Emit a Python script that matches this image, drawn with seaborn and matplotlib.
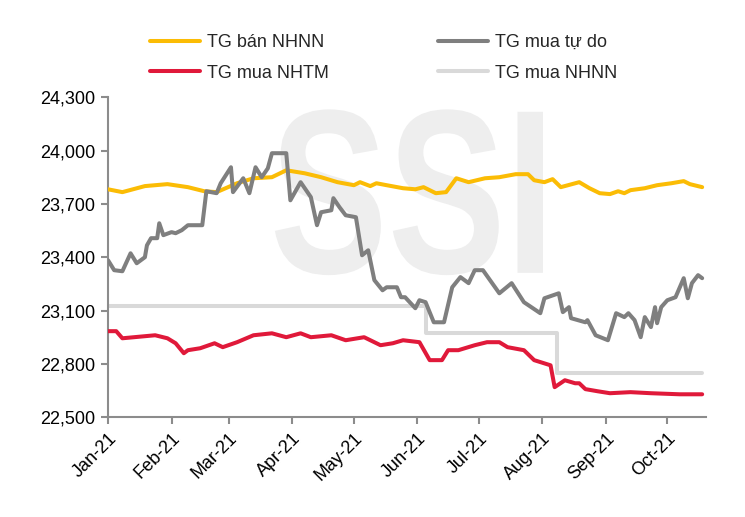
import pandas as pd
import numpy as np
import seaborn as sns
import matplotlib.pyplot as plt
import matplotlib.dates as mdates
from matplotlib.ticker import FuncFormatter
from matplotlib.textpath import TextPath
from matplotlib.patches import PathPatch
from matplotlib.font_manager import FontProperties
from matplotlib.transforms import Affine2D

# ----------------------
# Data (VND/USD)
# ----------------------

# TG ban NHNN (SBV selling rate)
sell_sbv_dates = ["2021-01-01", "2021-01-08", "2021-01-19", "2021-01-30", "2021-02-09", "2021-02-17",
                  "2021-02-23", "2021-03-05", "2021-03-13", "2021-03-22", "2021-03-29", "2021-04-07",
                  "2021-04-15", "2021-04-23", "2021-05-01", "2021-05-04", "2021-05-09", "2021-05-12",
                  "2021-05-17", "2021-05-25", "2021-05-31", "2021-06-04", "2021-06-10", "2021-06-15",
                  "2021-06-20", "2021-06-26", "2021-07-04", "2021-07-11", "2021-07-19", "2021-07-25",
                  "2021-07-28", "2021-08-02", "2021-08-06", "2021-08-10", "2021-08-19", "2021-08-24",
                  "2021-08-29", "2021-09-03", "2021-09-07", "2021-09-10", "2021-09-13", "2021-09-20",
                  "2021-09-26", "2021-10-03", "2021-10-09", "2021-10-12", "2021-10-18"]
sell_sbv = [23782, 23766, 23800, 23811, 23794, 23771,
            23766, 23816, 23844, 23850, 23889, 23872,
            23850, 23822, 23805, 23822, 23800, 23816,
            23805, 23788, 23782, 23794, 23760, 23766,
            23844, 23822, 23844, 23850, 23867, 23867,
            23833, 23822, 23839, 23794, 23822, 23788,
            23760, 23755, 23771, 23760, 23777, 23788,
            23805, 23816, 23828, 23811, 23794]

# TG mua tu do (free market buying rate)
free_dates = ["2021-01-01", "2021-01-04", "2021-01-08", "2021-01-12", "2021-01-15", "2021-01-19",
              "2021-01-20", "2021-01-22", "2021-01-25", "2021-01-26", "2021-01-28", "2021-02-01",
              "2021-02-03", "2021-02-06", "2021-02-09", "2021-02-16", "2021-02-18", "2021-02-23",
              "2021-02-25", "2021-03-02", "2021-03-03", "2021-03-08", "2021-03-11", "2021-03-14",
              "2021-03-17", "2021-03-20", "2021-03-22", "2021-03-29", "2021-03-31", "2021-04-05",
              "2021-04-10", "2021-04-13", "2021-04-15", "2021-04-20", "2021-04-21", "2021-04-24",
              "2021-04-27", "2021-05-02", "2021-05-05", "2021-05-08", "2021-05-11", "2021-05-15",
              "2021-05-17", "2021-05-22", "2021-05-24", "2021-05-26", "2021-05-31", "2021-06-02",
              "2021-06-05", "2021-06-09", "2021-06-14", "2021-06-18", "2021-06-22", "2021-06-26",
              "2021-06-29", "2021-07-03", "2021-07-11", "2021-07-17", "2021-07-23", "2021-07-31",
              "2021-08-02", "2021-08-09", "2021-08-11", "2021-08-14", "2021-08-15", "2021-08-22",
              "2021-08-23", "2021-08-27", "2021-09-02", "2021-09-06", "2021-09-10", "2021-09-12",
              "2021-09-15", "2021-09-18", "2021-09-20", "2021-09-23", "2021-09-25", "2021-09-26",
              "2021-09-28", "2021-10-01", "2021-10-05", "2021-10-09", "2021-10-11", "2021-10-13",
              "2021-10-16", "2021-10-18"]
free_buy = [23383, 23327, 23321, 23422, 23366, 23400,
            23467, 23507, 23507, 23591, 23524, 23541,
            23535, 23552, 23580, 23580, 23771, 23760,
            23816, 23906, 23766, 23844, 23760, 23906,
            23850, 23900, 23985, 23985, 23720, 23822,
            23738, 23580, 23653, 23664, 23732, 23681,
            23636, 23625, 23411, 23439, 23271, 23214,
            23231, 23231, 23175, 23175, 23113, 23158,
            23147, 23034, 23034, 23231, 23288, 23254,
            23327, 23327, 23197, 23254, 23147, 23085,
            23169, 23197, 23091, 23119, 23057, 23034,
            23046, 22961, 22933, 23085, 23063, 23085,
            23046, 22950, 23063, 23007, 23119, 23029,
            23119, 23158, 23175, 23282, 23169, 23254,
            23299, 23282]

# TG mua NHTM (commercial bank buying rate)
bank_dates = ["2021-01-01", "2021-01-05", "2021-01-08", "2021-01-24", "2021-01-30", "2021-02-03",
              "2021-02-07", "2021-02-09", "2021-02-15", "2021-02-22", "2021-02-26", "2021-03-05",
              "2021-03-13", "2021-03-22", "2021-03-29", "2021-04-05", "2021-04-10", "2021-04-20",
              "2021-04-27", "2021-05-06", "2021-05-14", "2021-05-20", "2021-05-25", "2021-06-02",
              "2021-06-07", "2021-06-13", "2021-06-16", "2021-06-21", "2021-06-29", "2021-07-05",
              "2021-07-11", "2021-07-15", "2021-07-23", "2021-07-28", "2021-08-05", "2021-08-07",
              "2021-08-12", "2021-08-17", "2021-08-19", "2021-08-22", "2021-08-28", "2021-09-03",
              "2021-09-13", "2021-09-23", "2021-10-07", "2021-10-18"]
bank_buy = [22984, 22984, 22944, 22961, 22944, 22916,
            22860, 22877, 22888, 22916, 22894, 22922,
            22961, 22972, 22950, 22972, 22950, 22961,
            22933, 22950, 22905, 22916, 22933, 22922,
            22821, 22821, 22877, 22877, 22905, 22922,
            22922, 22894, 22877, 22821, 22792, 22669,
            22708, 22691, 22691, 22658, 22646, 22635,
            22641, 22635, 22629, 22629]

# TG mua NHNN (SBV buying rate, step changes)
buy_sbv_dates = ["2021-01-01", "2021-06-05", "2021-08-08", "2021-10-18"]
buy_sbv = [23125, 22975, 22750, 22750]

# ----------------------
# Plot
# ----------------------

sns.set_theme(style="white")
plt.rcParams["font.family"] = ["Liberation Sans", "DejaVu Sans"]

fig, ax = plt.subplots(figsize=(7.45, 5.17), dpi=100)
fig.subplots_adjust(left=0.145, right=0.948, top=0.812, bottom=0.193)

# SSI watermark, squeezed to a narrow shape and placed in axes fraction
wm = TextPath((0, 0), "SSI", size=1, prop=FontProperties(family="Liberation Sans", weight="bold"))
ext = wm.get_extents()
box_x0, box_x1, box_y0, box_y1 = 0.279, 0.727, 0.444, 0.962
tr = (Affine2D().translate(-ext.x0, -ext.y0)
      .scale((box_x1 - box_x0) / ext.width, (box_y1 - box_y0) / ext.height)
      .translate(box_x0, box_y0))
ax.add_patch(PathPatch(tr.transform_path(wm), transform=ax.transAxes,
                       facecolor="#eeeeee", edgecolor="none", zorder=0))

lw = 2.9
sns.lineplot(x=pd.to_datetime(buy_sbv_dates), y=buy_sbv, color="#d9d9d9", linewidth=lw,
             drawstyle="steps-post", label="TG mua NHNN", ax=ax, zorder=2)
sns.lineplot(x=pd.to_datetime(bank_dates), y=bank_buy, color="#e0193a", linewidth=lw,
             label="TG mua NHTM", ax=ax, zorder=3)
sns.lineplot(x=pd.to_datetime(sell_sbv_dates), y=sell_sbv, color="#fbbc05", linewidth=lw,
             label="TG bán NHNN", ax=ax, zorder=3)
sns.lineplot(x=pd.to_datetime(free_dates), y=free_buy, color="#7f7f7f", linewidth=lw,
             label="TG mua tự do", ax=ax, zorder=4)

ax.set_xlim(pd.Timestamp("2021-01-01"), pd.Timestamp("2021-10-20"))
ax.set_ylim(22500, 24300)
ax.set_yticks(np.arange(22500, 24301, 300))
ax.yaxis.set_major_formatter(FuncFormatter(lambda v, p: f"{int(v):,}"))
ax.xaxis.set_major_locator(mdates.MonthLocator())
ax.xaxis.set_major_formatter(mdates.DateFormatter("%b-%y"))
ax.set_xlabel("")
ax.set_ylabel("")

for side in ["top", "right"]:
    ax.spines[side].set_visible(False)
for side in ["left", "bottom"]:
    ax.spines[side].set_color("#8c8c8c")
    ax.spines[side].set_linewidth(1.5)

ax.tick_params(axis="both", which="major", direction="out", length=5, width=1.5,
               color="#8c8c8c", labelsize=13, labelcolor="black", pad=4)
ax.tick_params(axis="y", left=True)
ax.tick_params(axis="x", bottom=True)
for lab in ax.get_xticklabels():
    lab.set_rotation(45)
    lab.set_ha("right")
    lab.set_rotation_mode("anchor")

# legend: column 1 = ban NHNN / mua NHTM, column 2 = mua tu do / mua NHNN
handles, labels = ax.get_legend_handles_labels()
lookup = dict(zip(labels, handles))
order = ["TG bán NHNN", "TG mua NHTM", "TG mua tự do", "TG mua NHNN"]
ax.get_legend().remove()
fig.legend([lookup[k] for k in order], order, ncol=2, loc="center",
           bbox_to_anchor=(0.515, 0.888), frameon=False, fontsize=13,
           handlelength=2.8, handletextpad=0.4, columnspacing=6.0, labelspacing=0.75)

plt.savefig("out.png", dpi=100)
